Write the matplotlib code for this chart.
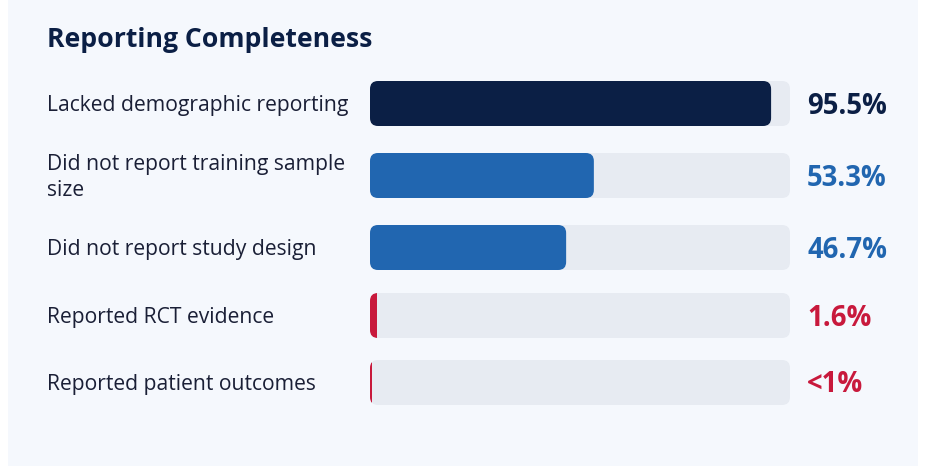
import matplotlib
matplotlib.use("Agg")
import matplotlib.pyplot as plt
from matplotlib.patches import FancyBboxPatch, Rectangle

title = "Reporting Completeness"
labels = ["Lacked demographic reporting",
          "Did not report training sample\nsize",
          "Did not report study design",
          "Reported RCT evidence",
          "Reported patient outcomes"]
values = [95.5, 53.3, 46.7, 1.6, 0.5]
value_text = ["95.5%", "53.3%", "46.7%", "1.6%", "<1%"]
colors = ["#0b1f45", "#2166b0", "#2166b0", "#c8193c", "#c8193c"]

row_y = [103.5, 175.5, 247.5, 315.5, 382.5]  # row centres in px
bar_h = 45
radius = 8

plt.rcParams['font.family'] = ['Open Sans', 'DejaVu Sans']

W, H = 931, 466
fig = plt.figure(figsize=(W / 100, H / 100), dpi=100)
fig.patch.set_facecolor("white")

# background panel / text layer in pixel coords
bg = fig.add_axes([0, 0, 1, 1])
bg.set_xlim(0, W)
bg.set_ylim(H, 0)
bg.axis("off")
bg.add_patch(Rectangle((8, 0), 910, H, facecolor="#f5f8fd", edgecolor="none"))

bg.text(47, 40, title, fontsize=19.2, fontweight="bold", color="#0b1f45",
        va="center", ha="left")

for y, lab, vt, c in zip(row_y, labels, value_text, colors):
    bg.text(47, y + 2, lab, fontsize=15.2, fontweight="medium", color="#1a1f36",
            va="center", ha="left", linespacing=1.3)
    bg.text(807, y + 2.5, vt, fontsize=19.8, fontweight="bold", color=c,
            va="center", ha="left")

# bar axes: x in percent, y in px
x0, x1 = 370, 790
ax = fig.add_axes([x0 / W, 0, (x1 - x0) / W, 1])
ax.set_xlim(0, 100)
ax.set_ylim(H, 0)
ax.axis("off")
px_per_unit = (x1 - x0) / 100
r_x = radius / px_per_unit

for y, v, c in zip(row_y, values, colors):
    top = y - bar_h / 2
    track = FancyBboxPatch((0, top), 100, bar_h,
                           boxstyle=f"round,pad=0,rounding_size={r_x}",
                           mutation_aspect=px_per_unit,
                           facecolor="#e7ebf2", edgecolor="none")
    ax.add_patch(track)
    if v >= 2 * r_x:
        fill = FancyBboxPatch((0, top), v, bar_h,
                              boxstyle=f"round,pad=0,rounding_size={r_x}",
                              mutation_aspect=px_per_unit,
                              facecolor=c, edgecolor="none")
    else:
        fill = Rectangle((0, top), v, bar_h, facecolor=c, edgecolor="none")
        fill.set_clip_path(track)
    ax.add_patch(fill)

fig.savefig("out.png", dpi=100, facecolor=fig.get_facecolor())
